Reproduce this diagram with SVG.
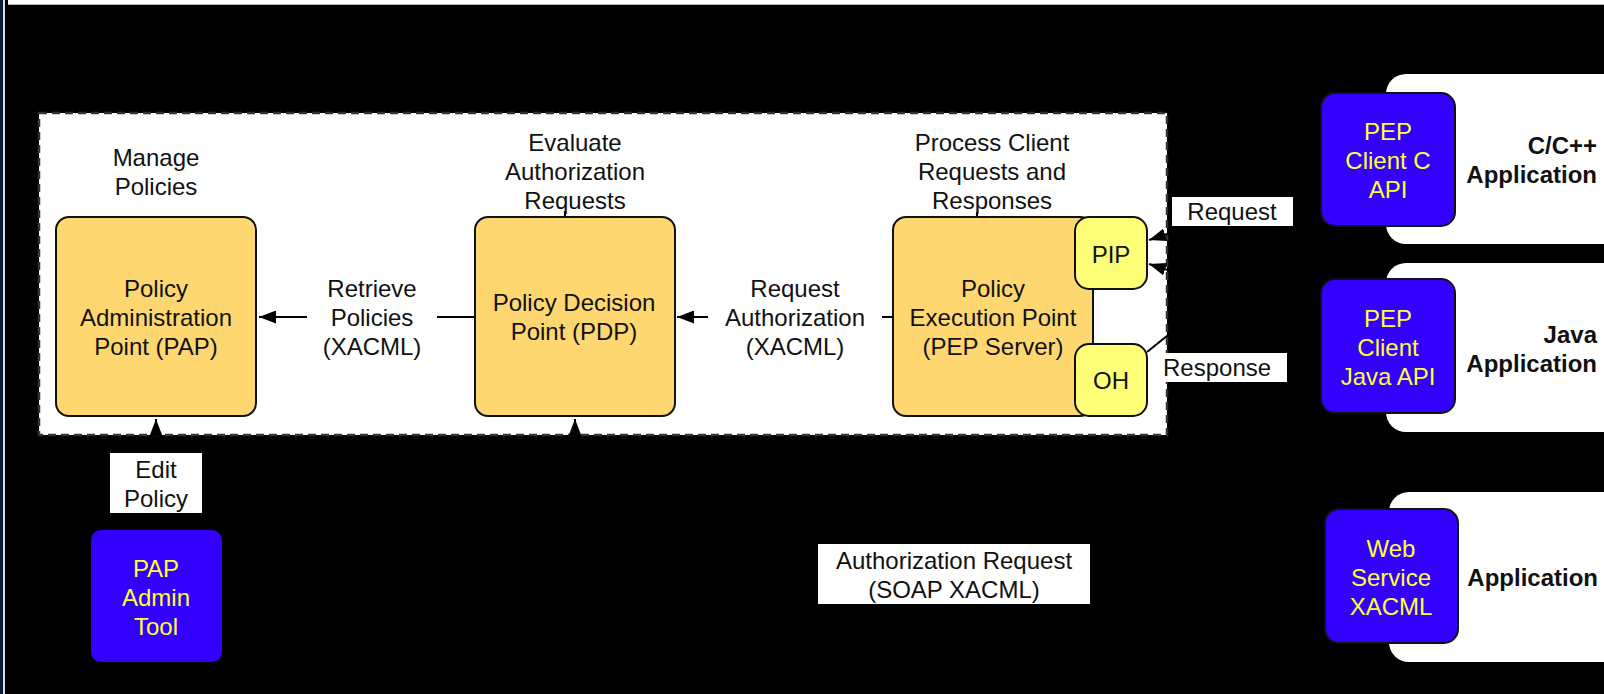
<svg xmlns="http://www.w3.org/2000/svg" width="1604" height="694" viewBox="0 0 1604 694">
<style>
text{font-family:"Liberation Sans",Arial,Helvetica,sans-serif;font-size:24px;fill:#111;text-anchor:middle}
.y{fill:#ffff33}
.b{font-weight:bold;text-anchor:end}
.core{fill:#ffd770;stroke:#111;stroke-width:2}
.sub{fill:#ffff77;stroke:#111;stroke-width:2}
.client{fill:#3300ff;stroke:#111;stroke-width:2}
.app{fill:#fff}
.lbl{fill:#fff}
.conn{fill:none;stroke:#000;stroke-width:2}
</style>
<defs>
<marker id="ah" markerWidth="17" markerHeight="13" refX="17" refY="6.5" orient="auto" markerUnits="userSpaceOnUse">
<path d="M0,0 L17,6.5 L0,13 z" fill="#000"/>
</marker>
</defs>
<rect x="0" y="0" width="1604" height="694" fill="#000"/>
<rect x="0" y="0" width="3" height="694" fill="#0b1a3d"/>
<rect x="3" y="0" width="2" height="694" fill="#d8dde6"/>
<rect x="8" y="0" width="1596" height="4.7" fill="#fff"/>

<g id="container">
<rect x="39" y="113" width="1128" height="322" fill="#fff" stroke="#333" stroke-width="2.5" stroke-dasharray="8 5"/>
</g>

<g id="app-c">
<rect class="app" x="1386" y="74" width="240" height="170" rx="20"/>
<text class="b" x="1597" y="154">C/C++</text>
<text class="b" x="1597" y="183">Application</text>
</g>
<g id="app-java">
<rect class="app" x="1386" y="263" width="240" height="169" rx="20"/>
<text class="b" x="1597" y="343">Java</text>
<text class="b" x="1597" y="372">Application</text>
</g>
<g id="app-web">
<rect class="app" x="1389" y="492" width="240" height="170" rx="20"/>
<text class="b" x="1598" y="586">Application</text>
</g>

<g id="connectors">
<path class="conn" d="M475,317 H259" marker-end="url(#ah)"/>
<path class="conn" d="M893,317 H677" marker-end="url(#ah)"/>
<path class="conn" d="M156,530 V419" marker-end="url(#ah)"/>
<path class="conn" d="M1325,574 H575 V419" marker-end="url(#ah)"/>
<path class="conn" d="M1321,185 L1149,240" marker-end="url(#ah)"/>
<path class="conn" d="M1321,319 L1149,264" marker-end="url(#ah)"/>
<path class="conn" d="M1147,352 L1320,213" marker-end="url(#ah)"/>
<path class="conn" d="M565,211 V217"/>
<path class="conn" d="M977,212 V217"/>
</g>

<g id="label-manage">
<text x="156" y="166">Manage</text>
<text x="156" y="195">Policies</text>
</g>
<g id="label-evaluate">
<text x="575" y="151">Evaluate</text>
<text x="575" y="180">Authorization</text>
<text x="575" y="209">Requests</text>
</g>
<g id="label-process">
<text x="992" y="151">Process Client</text>
<text x="992" y="180">Requests and</text>
<text x="992" y="209">Responses</text>
</g>

<g id="pap">
<rect class="core" x="56" y="217" width="200" height="199" rx="13"/>
<text x="156" y="297">Policy</text>
<text x="156" y="326">Administration</text>
<text x="156" y="355">Point (PAP)</text>
</g>
<g id="pdp">
<rect class="core" x="475" y="217" width="200" height="199" rx="13"/>
<text x="574" y="311">Policy Decision</text>
<text x="574" y="340">Point (PDP)</text>
</g>
<g id="pep">
<rect class="core" x="893" y="217" width="200" height="199" rx="13"/>
<text x="993" y="297">Policy</text>
<text x="993" y="326">Execution Point</text>
<text x="993" y="355">(PEP Server)</text>
</g>
<g id="pip">
<rect class="sub" x="1075" y="217" width="72" height="72" rx="14"/>
<text x="1111" y="263">PIP</text>
</g>
<g id="oh">
<rect class="sub" x="1075" y="344" width="72" height="72" rx="14"/>
<text x="1111" y="389">OH</text>
</g>

<g id="label-retrieve">
<rect class="lbl" x="307" y="272" width="130" height="92"/>
<text x="372" y="297">Retrieve</text>
<text x="372" y="326">Policies</text>
<text x="372" y="355">(XACML)</text>
</g>
<g id="label-reqauth">
<rect class="lbl" x="708" y="272" width="174" height="92"/>
<text x="795" y="297">Request</text>
<text x="795" y="326">Authorization</text>
<text x="795" y="355">(XACML)</text>
</g>
<g id="label-edit">
<rect class="lbl" x="110" y="453" width="92" height="60"/>
<text x="156" y="478">Edit</text>
<text x="156" y="507">Policy</text>
</g>
<g id="label-authreq">
<rect class="lbl" x="818" y="544" width="272" height="60"/>
<text x="954" y="569">Authorization Request</text>
<text x="954" y="598">(SOAP XACML)</text>
</g>
<g id="label-request">
<rect class="lbl" x="1172" y="197" width="121" height="29"/>
<text x="1232" y="220">Request</text>
</g>
<g id="label-response">
<rect class="lbl" x="1161" y="353" width="126" height="29"/>
<text x="1163" y="376" style="text-anchor:start">Response</text>
</g>

<g id="pap-admin">
<rect fill="#3300ff" x="91" y="530" width="131" height="132" rx="10"/>
<text class="y" x="156" y="577">PAP</text>
<text class="y" x="156" y="606">Admin</text>
<text class="y" x="156" y="635">Tool</text>
</g>
<g id="pep-client-c">
<rect class="client" x="1321" y="93" width="134" height="133" rx="14"/>
<text class="y" x="1388" y="140">PEP</text>
<text class="y" x="1388" y="169">Client C</text>
<text class="y" x="1388" y="198">API</text>
</g>
<g id="pep-client-java">
<rect class="client" x="1321" y="279" width="134" height="134" rx="14"/>
<text class="y" x="1388" y="327">PEP</text>
<text class="y" x="1388" y="356">Client</text>
<text class="y" x="1388" y="385">Java API</text>
</g>
<g id="web-service">
<rect class="client" x="1325" y="509" width="133" height="134" rx="14"/>
<text class="y" x="1391" y="557">Web</text>
<text class="y" x="1391" y="586">Service</text>
<text class="y" x="1391" y="615">XACML</text>
</g>
</svg>
